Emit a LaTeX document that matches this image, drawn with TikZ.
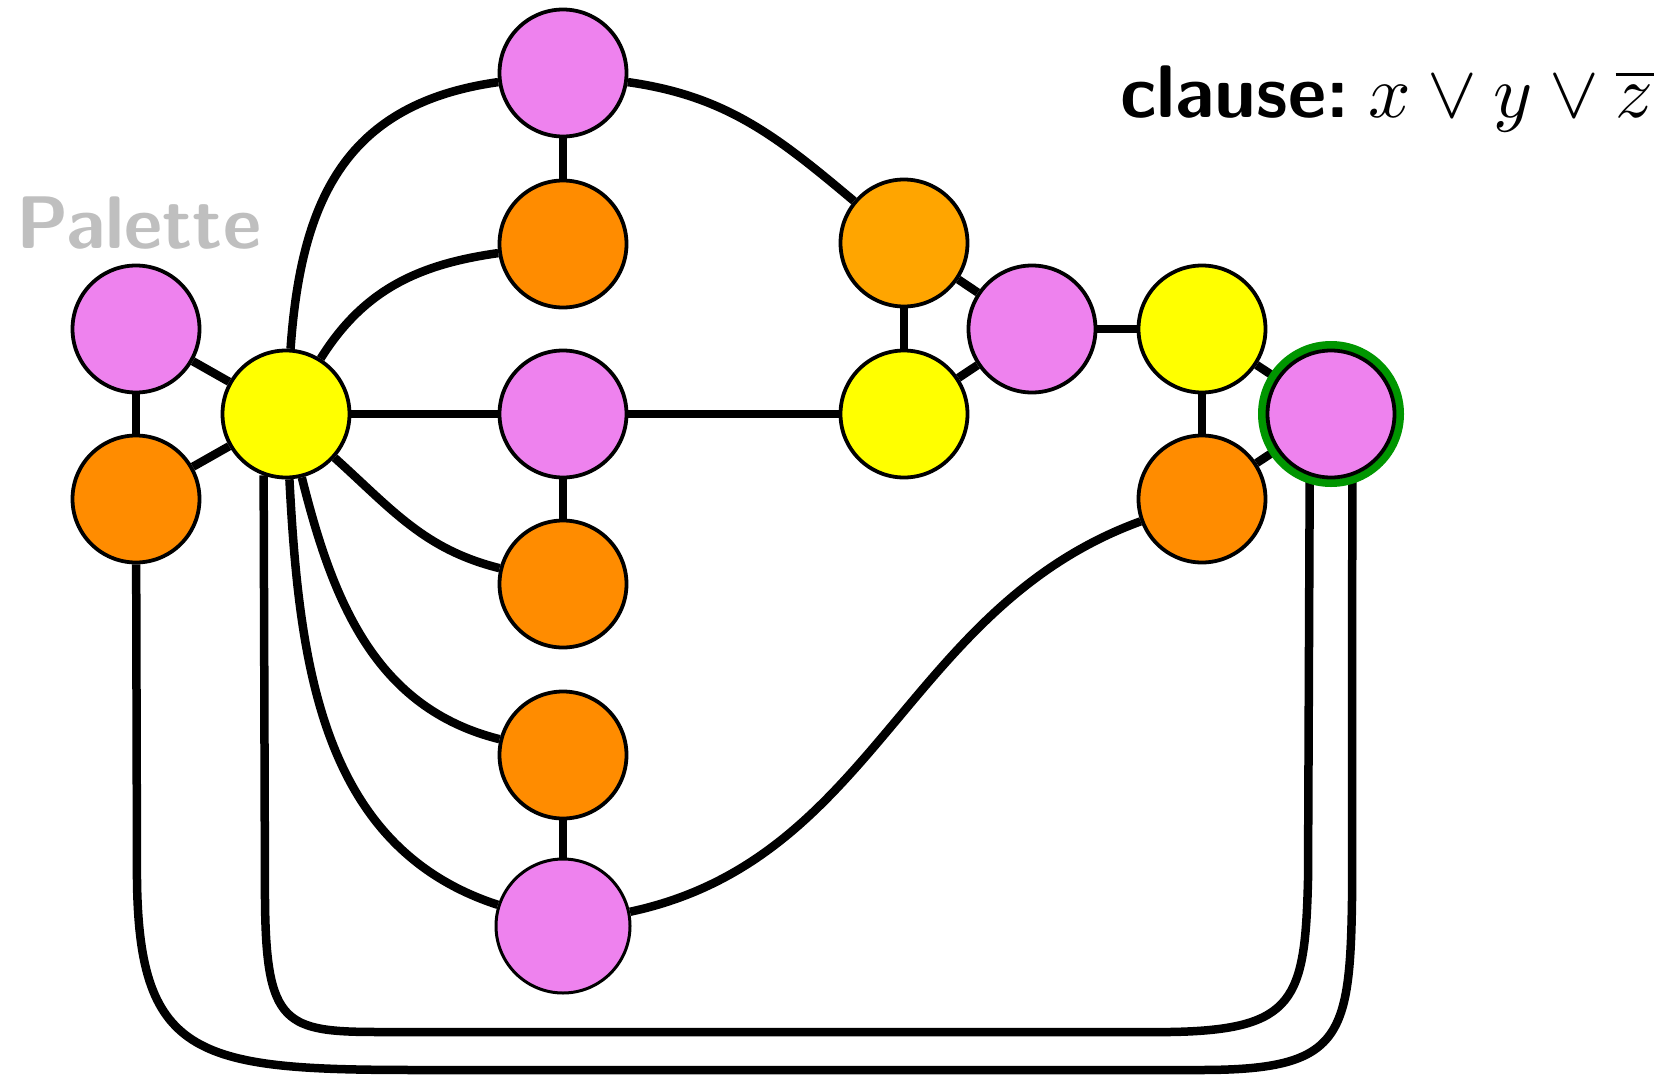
\documentclass[tikz,border=0pt]{standalone}
\definecolor{vio}{HTML}{EE82EE}
\definecolor{dorange}{HTML}{FF8C00}
\definecolor{lorange}{HTML}{FFA500}
\definecolor{yel}{HTML}{FFFF00}
\definecolor{ringgreen}{RGB}{0,150,0}
\definecolor{palgray}{HTML}{BFBFBF}
\pgfdeclarelayer{edges}
\pgfdeclarelayer{ring}
\pgfsetlayers{edges,ring,main}
\begin{document}
\begin{tikzpicture}[x=1pt,y=1pt,
  vert/.style={circle,draw=black,line width=3.8pt,minimum size=127pt,inner sep=0pt},
  conn/.style={line width=8.5pt,draw=black},
  lbl/.style={inner sep=0pt,scale=7.45,font=\sffamily\bfseries}]
\useasboundingbox (0,0) rectangle (1668,-1076);
% nodes
\node[vert,fill=vio] (P1) at (136,-329) {};
\node[vert,fill=dorange] (O1) at (136,-499) {};
\node[vert,fill=yel] (Y0) at (286,-414) {};
\node[vert,fill=vio] (Vt) at (563,-73) {};
\node[vert,fill=dorange] (Ot) at (563,-244) {};
\node[vert,fill=vio] (Vm) at (563,-414) {};
\node[vert,fill=dorange] (Om) at (563,-584) {};
\node[vert,fill=dorange] (Ol) at (563,-755) {};
\node[vert,fill=vio,minimum size=134pt,line width=3pt] (Vb) at (563,-926) {};
\node[vert,fill=lorange] (Or) at (904,-243) {};
\node[vert,fill=yel] (Y2) at (904,-414) {};
\node[vert,fill=vio] (V3) at (1032,-329) {};
\node[vert,fill=yel] (Y3) at (1202,-329) {};
\node[vert,fill=dorange] (O3) at (1202,-499) {};
\node[vert,fill=vio] (Vg) at (1331,-414) {};
% texts
\node[lbl,anchor=base east] (clause) at (1655,-117) {clause:\hspace{2.6pt}$x\vee y\vee\overline{z}$};
\node[lbl,anchor=base west,text=palgray] (pal) at (15,-248) {Palette};
% ring
\begin{pgfonlayer}{ring}
\draw[ringgreen,line width=8pt] (Vg.center) circle[radius=69];
\end{pgfonlayer}
% edges
\begin{pgfonlayer}{edges}
\draw[conn] (P1) -- (O1);
\draw[conn] (P1) -- (Y0);
\draw[conn] (O1) -- (Y0);
\draw[conn] (Y0) to[out=86,in=188,looseness=1.15] (Vt);
\draw[conn] (Y0) to[out=58,in=188] (Ot);
\draw[conn] (Y0) -- (Vm);
\draw[conn] (Y0) to[out=-42,in=166] (Om);
\draw[conn] (Y0) to[out=-76,in=166] (Ol);
\draw[conn] (Y0) to[out=-87,in=162] (Vb);
\draw[conn] (Vt) to[out=-8,in=140] (Or);
\draw[conn] (Vt) -- (Ot);
\draw[conn] (Vm) -- (Om);
\draw[conn] (Ol) -- (Vb);
\draw[conn] (Vm) -- (Y2);
\draw[conn] (Or) -- (Y2);
\draw[conn] (Or) -- (V3);
\draw[conn] (Y2) -- (V3);
\draw[conn] (V3) -- (Y3);
\draw[conn] (Y3) -- (O3);
\draw[conn] (Y3) -- (Vg);
\draw[conn] (O3) -- (Vg);
\draw[conn] (O3) to[out=200,in=12] (Vb);
\draw[conn] (Y0.-110) -- (265,-900) .. controls (266,-1025) and (285,-1032) .. (380,-1032)
  -- (1170,-1032) .. controls (1295,-1030) and (1305,-1000) .. (1308,-880) -- (Vg.-109);
\draw[conn] (O1) -- (137,-880) .. controls (139,-1060) and (200,-1070) .. (420,-1070)
  -- (1200,-1070) .. controls (1340,-1070) and (1350,-1040) .. (1352,-900) -- (Vg.-71);
\end{pgfonlayer}
\end{tikzpicture}
\end{document}
